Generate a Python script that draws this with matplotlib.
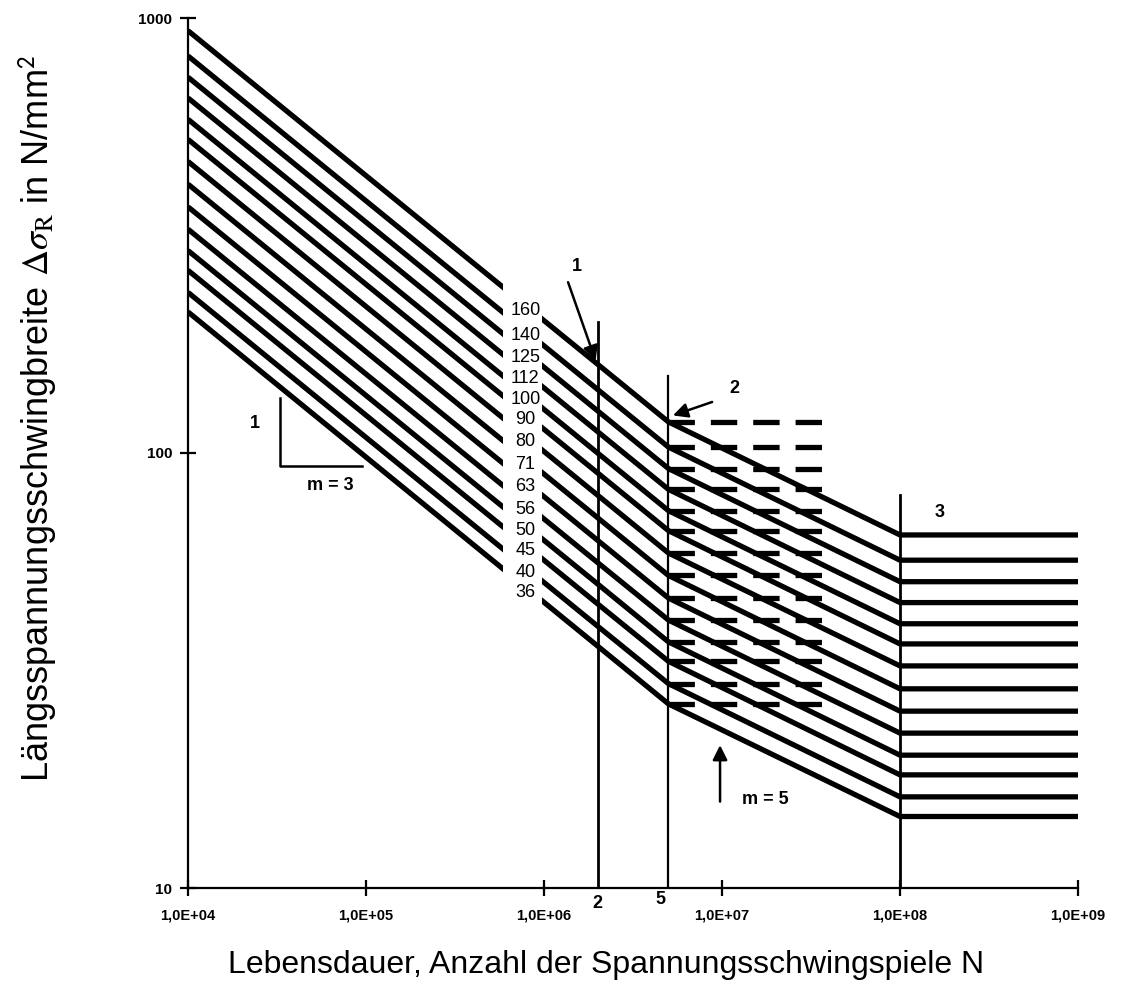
import numpy as np
import matplotlib
matplotlib.use("Agg")
import matplotlib.pyplot as plt

plt.rcParams['font.family'] = ['Liberation Sans', 'DejaVu Sans']
plt.rcParams['mathtext.fontset'] = 'stix'
plt.rcParams['lines.scale_dashes'] = False

# Kerbfallklassen (Delta sigma_C bei N = 2E+06)
detail_classes = [160, 140, 125, 112, 100, 90, 80, 71, 63, 56, 50, 45, 40, 36]
# Werte an den Knickpunkten der Kurven, in N/mm^2
sigma_at_1e4 = [935, 818, 731, 655, 585, 526, 468, 415, 368, 327, 292, 263, 234, 211]
sigma_c = [160, 140, 125, 112, 100, 90, 80, 71, 63, 56, 50, 45, 40, 36]
sigma_d = [117.9, 103.2, 92.1, 82.5, 73.7, 66.3, 58.9, 52.3, 46.4, 41.3, 36.8, 33.2, 29.5, 26.5]
sigma_l = [64.8, 56.7, 50.6, 45.3, 40.5, 36.4, 32.4, 28.7, 25.5, 22.7, 20.2, 18.2, 16.2, 14.6]

n_points = [1e4, 2e6, 5e6, 1e8, 1e9]
n_dash_end = 4e7
n_label = 8.0e5
gap = (5.9e5, 9.7e5)

x_ticks = [1e4, 1e5, 1e6, 1e7, 1e8, 1e9]
x_ticklabels = ['1,0E+04', '1,0E+05', '1,0E+06', '1,0E+07', '1,0E+08', '1,0E+09']
y_ticks = [10, 100, 1000]
y_ticklabels = ['10', '100', '1000']

fig = plt.figure(figsize=(11.27, 9.93), dpi=100)
ax = fig.add_axes([188 / 1127, 1 - 888 / 993, 890 / 1127, 870 / 993])
ax.set_xscale('log')
ax.set_yscale('log')
ax.set_xlim(1e4, 1e9)
ax.set_ylim(10, 1000)

for s1, sc, sd, sl in zip(sigma_at_1e4, sigma_c, sigma_d, sigma_l):
    ax.plot(n_points, [s1, sc, sd, sl, sl], color='black', lw=3.8,
            solid_capstyle='butt', zorder=2)
    ax.plot([n_points[2], n_dash_end], [sd, sd], color='black', lw=3.8,
            dashes=(19, 11.5), dash_capstyle='butt', zorder=2)

# Luecke fuer die Beschriftung der Kerbfaelle
ax.axvspan(gap[0], gap[1], ymin=0.3, ymax=0.78, color='white', lw=0, zorder=3)
for cls, s1, sc in zip(detail_classes, sigma_at_1e4, sigma_c):
    y = np.exp(np.interp(np.log(n_label), np.log([1e4, 2e6]), np.log([s1, sc])))
    ax.annotate(str(cls), (n_label, y), xytext=(-1, -3), textcoords='offset points',
                ha='center', va='center', fontsize=13, zorder=4)

# senkrechte Linien bei N_C, N_D, N_L
ax.plot([2e6, 2e6], [10, 200], color='black', lw=2.0, zorder=2)
ax.plot([5e6, 5e6], [10, 150], color='black', lw=1.6, zorder=2)
ax.plot([1e8, 1e8], [10, 80], color='black', lw=2.0, zorder=2)

# Steigungsdreieck m = 3
ax.plot([3.29e4, 3.29e4, 9.5e4], [133.5, 93.5, 93.5], color='black', lw=1.8)
ax.text(2.38e4, 117, '1', ha='center', va='center', fontsize=13, fontweight='bold')
ax.text(6.28e4, 84.3, 'm = 3', ha='center', va='center', fontsize=13, fontweight='bold')

arrow = dict(arrowstyle='-|>', color='black', lw=1.8, mutation_scale=22, shrinkA=0, shrinkB=0)
ax.annotate('', xy=(1.95e6, 163), xytext=(1.365e6, 247), arrowprops=arrow)
ax.text(1.53e6, 268, '1', ha='center', va='center', fontsize=13, fontweight='bold')
ax.annotate('', xy=(5.3e6, 122), xytext=(8.8e6, 131), arrowprops=arrow)
ax.text(1.18e7, 141, '2', ha='center', va='center', fontsize=13, fontweight='bold')
ax.text(1.68e8, 72.8, '3', ha='center', va='center', fontsize=13, fontweight='bold')
ax.annotate('', xy=(9.75e6, 21.3), xytext=(9.75e6, 15.8), arrowprops=arrow)
ax.text(1.75e7, 16.0, 'm = 5', ha='center', va='center', fontsize=13, fontweight='bold')

# Markierungen 2 und 5 unter der Achse
ax.annotate('2', (2e6, 10), xytext=(0, -5), textcoords='offset points', ha='center',
            va='top', fontsize=13, fontweight='bold')
ax.annotate('5', (5e6, 10), xytext=(-6, -2), textcoords='offset points', ha='center',
            va='top', fontsize=13, fontweight='bold')

for side in ['top', 'right']:
    ax.spines[side].set_visible(False)
for side in ['left', 'bottom']:
    ax.spines[side].set_linewidth(1.6)

ax.set_xticks(x_ticks)
ax.set_xticklabels(x_ticklabels, fontsize=10.5, fontweight='bold')
ax.set_yticks(y_ticks)
ax.set_yticklabels(y_ticklabels, fontsize=11, fontweight='bold')
ax.minorticks_off()
ax.tick_params(axis='both', direction='inout', length=11, width=1.6)
ax.tick_params(axis='x', pad=9)
ax.tick_params(axis='y', pad=6)

fig.text(38 / 1127, 1 - 418 / 993,
         r'Längsspannungsschwingbreite $\Delta\sigma_{\mathrm{R}}$ in N/mm$^{\mathsf{2}}$',
         rotation=90, ha='center', va='center', fontsize=26)
fig.text(606 / 1127, 1 - 965 / 993, 'Lebensdauer, Anzahl der Spannungsschwingspiele N',
         ha='center', va='center', fontsize=23)

fig.savefig('out.png', dpi=100)
